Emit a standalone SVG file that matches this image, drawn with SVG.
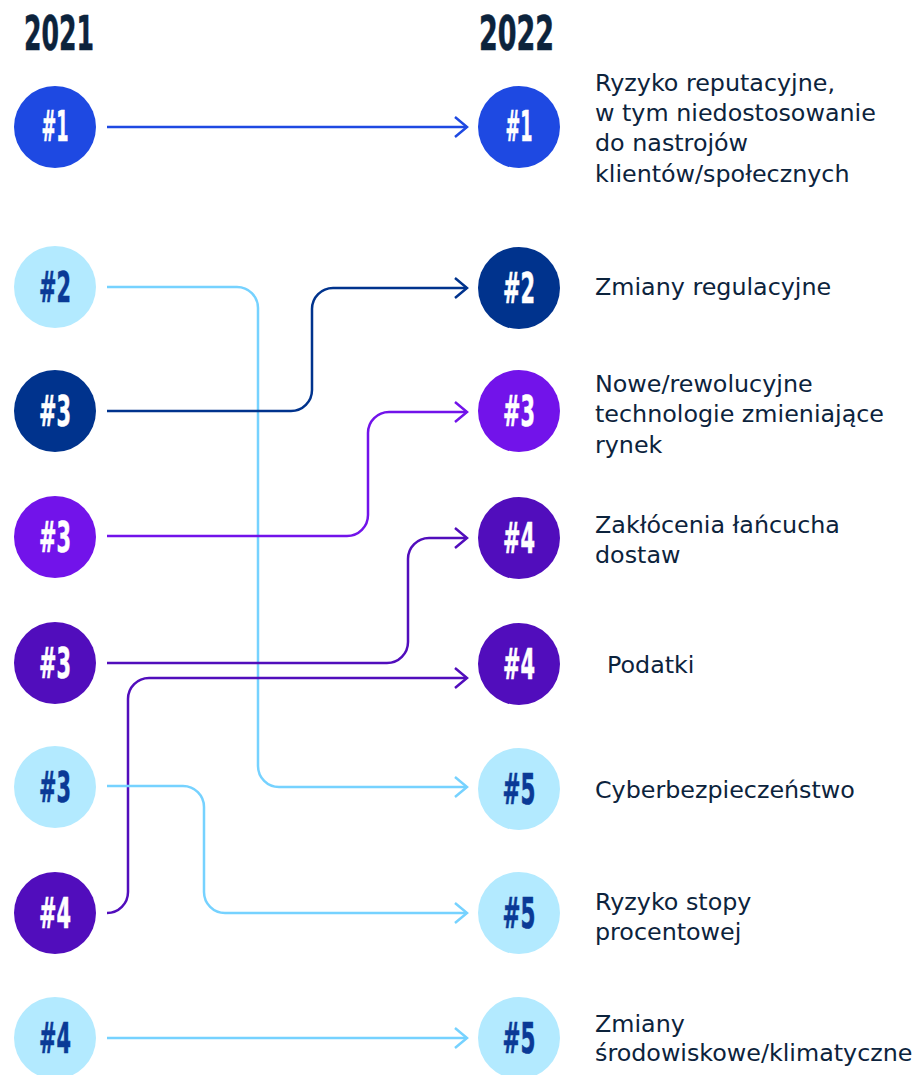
<svg xmlns="http://www.w3.org/2000/svg" width="917" height="1075" viewBox="0 0 917 1075">
<style>
.hdr{font-family:"Liberation Sans Narrow","DejaVu Sans Condensed","Liberation Sans",sans-serif;font-weight:700;font-size:48px;fill:#0C233C;stroke:#0C233C;stroke-width:0.6}
.num{font-family:"Liberation Sans Narrow","DejaVu Sans Condensed","Liberation Sans",sans-serif;font-weight:700;font-size:43px;text-anchor:middle;stroke-width:0.6}
.w{fill:#FFFFFF;stroke:#FFFFFF}
.d{fill:#0A3A96;stroke:#0A3A96}
.lbl{font-family:"DejaVu Sans","Liberation Sans",sans-serif;font-size:23.8px;fill:#0C233C}
.c{fill:none;stroke-width:2.5}
.blue{fill:#1E49E2}.light{fill:#B3EAFF}.navy{fill:#00338D}.purple{fill:#7213EA}.dpurple{fill:#510DBC}
</style>
<defs>
<marker id="m-blue" viewBox="0 0 16 24" markerWidth="16" markerHeight="24" refX="13" refY="11" orient="auto" markerUnits="userSpaceOnUse"><path d="M1,1 L13,11 L1,21" fill="none" stroke="#1E49E2" stroke-width="2.5"/></marker>
<marker id="m-light" viewBox="0 0 16 24" markerWidth="16" markerHeight="24" refX="13" refY="11" orient="auto" markerUnits="userSpaceOnUse"><path d="M1,1 L13,11 L1,21" fill="none" stroke="#76D2FF" stroke-width="2.5"/></marker>
<marker id="m-navy" viewBox="0 0 16 24" markerWidth="16" markerHeight="24" refX="13" refY="11" orient="auto" markerUnits="userSpaceOnUse"><path d="M1,1 L13,11 L1,21" fill="none" stroke="#00338D" stroke-width="2.5"/></marker>
<marker id="m-purple" viewBox="0 0 16 24" markerWidth="16" markerHeight="24" refX="13" refY="11" orient="auto" markerUnits="userSpaceOnUse"><path d="M1,1 L13,11 L1,21" fill="none" stroke="#7213EA" stroke-width="2.5"/></marker>
<marker id="m-dpurple" viewBox="0 0 16 24" markerWidth="16" markerHeight="24" refX="13" refY="11" orient="auto" markerUnits="userSpaceOnUse"><path d="M1,1 L13,11 L1,21" fill="none" stroke="#510DBC" stroke-width="2.5"/></marker>
</defs>
<rect width="917" height="1075" fill="#FFFFFF"/>
<g id="headers">
<text class="hdr" x="24" y="49.5" textLength="70" lengthAdjust="spacingAndGlyphs">2021</text>
<text class="hdr" x="479" y="49.5" textLength="75" lengthAdjust="spacingAndGlyphs">2022</text>
</g>
<g id="connectors">
<path class="c" stroke="#1E49E2" marker-end="url(#m-blue)" d="M107,127 H467"/>
<path class="c" stroke="#76D2FF" marker-end="url(#m-light)" d="M107,287 H237 A21,21 0 0 1 258,308 V766 A21,21 0 0 0 279,787 H467"/>
<path class="c" stroke="#00338D" marker-end="url(#m-navy)" d="M107,411 H291 A21,21 0 0 0 312,390 V309 A21,21 0 0 1 333,288 H467"/>
<path class="c" stroke="#7213EA" marker-end="url(#m-purple)" d="M107,536 H347 A21,21 0 0 0 368,515 V433 A21,21 0 0 1 389,412 H467"/>
<path class="c" stroke="#510DBC" marker-end="url(#m-dpurple)" d="M107,663 H387 A21,21 0 0 0 408,642 V559 A21,21 0 0 1 429,538 H467"/>
<path class="c" stroke="#510DBC" marker-end="url(#m-dpurple)" d="M107,913 A21,21 0 0 0 128,892 V699 A21,21 0 0 1 149,678 H467"/>
<path class="c" stroke="#76D2FF" marker-end="url(#m-light)" d="M107,786 H183 A21,21 0 0 1 204,807 V892 A21,21 0 0 0 225,913 H467"/>
<path class="c" stroke="#76D2FF" marker-end="url(#m-light)" d="M107,1038 H467"/>
</g>
<g id="l1"><circle class="blue" cx="55" cy="127" r="41"/><text class="num w" x="55" y="141" textLength="27" lengthAdjust="spacingAndGlyphs">#1</text></g>
<g id="l2"><circle class="light" cx="55" cy="287" r="41"/><text class="num d" x="55" y="302" textLength="32" lengthAdjust="spacingAndGlyphs">#2</text></g>
<g id="l3a"><circle class="navy" cx="55" cy="411" r="41"/><text class="num w" x="55" y="426" textLength="32" lengthAdjust="spacingAndGlyphs">#3</text></g>
<g id="l3b"><circle class="purple" cx="55" cy="537" r="41"/><text class="num w" x="55" y="552" textLength="32" lengthAdjust="spacingAndGlyphs">#3</text></g>
<g id="l3c"><circle class="dpurple" cx="55" cy="663" r="41"/><text class="num w" x="55" y="678" textLength="32" lengthAdjust="spacingAndGlyphs">#3</text></g>
<g id="l3d"><circle class="light" cx="55" cy="787" r="41"/><text class="num d" x="55" y="802" textLength="32" lengthAdjust="spacingAndGlyphs">#3</text></g>
<g id="l4a"><circle class="dpurple" cx="55" cy="913" r="41"/><text class="num w" x="55" y="928" textLength="32" lengthAdjust="spacingAndGlyphs">#4</text></g>
<g id="l4b"><circle class="light" cx="55" cy="1038" r="41"/><text class="num d" x="55" y="1053" textLength="32" lengthAdjust="spacingAndGlyphs">#4</text></g>
<g id="r1"><circle class="blue" cx="519" cy="127" r="41"/><text class="num w" x="519" y="141" textLength="27" lengthAdjust="spacingAndGlyphs">#1</text>
<text class="lbl" x="595"><tspan x="595" y="90.5">Ryzyko reputacyjne,</tspan><tspan x="595" y="120.8">w tym niedostosowanie</tspan><tspan x="595" y="151">do nastrojów</tspan><tspan x="595" y="181.5">klientów/społecznych</tspan></text></g>
<g id="r2"><circle class="navy" cx="519" cy="288" r="41"/><text class="num w" x="519" y="303" textLength="32" lengthAdjust="spacingAndGlyphs">#2</text>
<text class="lbl" x="595" y="295">Zmiany regulacyjne</text></g>
<g id="r3"><circle class="purple" cx="519" cy="411" r="41"/><text class="num w" x="519" y="426" textLength="32" lengthAdjust="spacingAndGlyphs">#3</text>
<text class="lbl" x="595"><tspan x="595" y="391.7">Nowe/rewolucyjne</tspan><tspan x="595" y="422.2">technologie zmieniające</tspan><tspan x="595" y="452.5">rynek</tspan></text></g>
<g id="r4a"><circle class="dpurple" cx="519" cy="538" r="41"/><text class="num w" x="519" y="553" textLength="32" lengthAdjust="spacingAndGlyphs">#4</text>
<text class="lbl" x="595"><tspan x="595" y="533.3">Zakłócenia łańcucha</tspan><tspan x="595" y="562.8">dostaw</tspan></text></g>
<g id="r4b"><circle class="dpurple" cx="519" cy="664" r="41"/><text class="num w" x="519" y="679" textLength="32" lengthAdjust="spacingAndGlyphs">#4</text>
<text class="lbl" x="607" y="673.3">Podatki</text></g>
<g id="r5a"><circle class="light" cx="519" cy="789" r="41"/><text class="num d" x="519" y="804" textLength="33" lengthAdjust="spacingAndGlyphs">#5</text>
<text class="lbl" x="595" y="798.3">Cyberbezpieczeństwo</text></g>
<g id="r5b"><circle class="light" cx="519" cy="913" r="41"/><text class="num d" x="519" y="928" textLength="33" lengthAdjust="spacingAndGlyphs">#5</text>
<text class="lbl" x="595"><tspan x="595" y="910">Ryzyko stopy</tspan><tspan x="595" y="940">procentowej</tspan></text></g>
<g id="r5c"><circle class="light" cx="519" cy="1038" r="41"/><text class="num d" x="519" y="1053" textLength="33" lengthAdjust="spacingAndGlyphs">#5</text>
<text class="lbl" x="595"><tspan x="595" y="1031.7">Zmiany</tspan><tspan x="595" y="1060.7">środowiskowe/klimatyczne</tspan></text></g>
</svg>
